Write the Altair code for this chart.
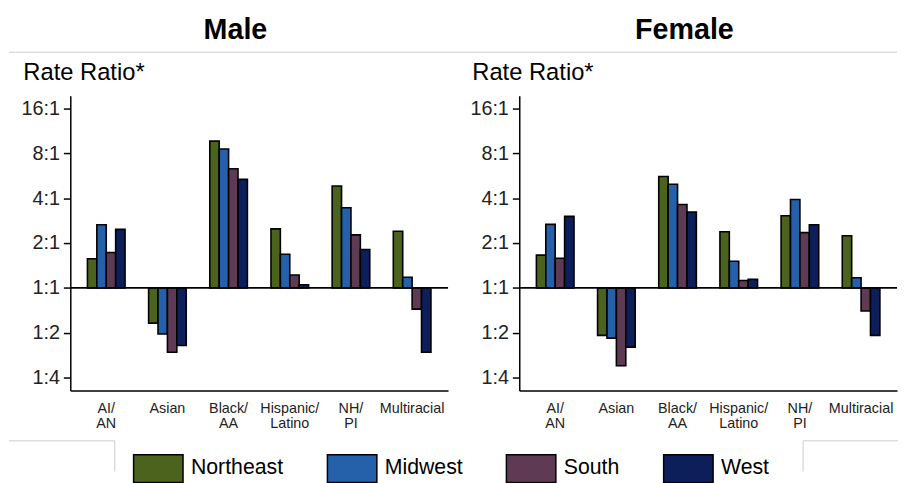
import altair as alt
import pandas as pd

categories = ["AI/AN", "Asian", "Black/AA", "Hispanic/Latino", "NH/PI", "Multiracial"]
regions = ["Northeast", "Midwest", "South", "West"]
colors = ["#4b631c", "#2461aa", "#5f3a55", "#0c1f5a"]

# rate ratios, one list per region, in category order
male = {
    "Northeast": [1.57, 0.58, 9.66, 2.49, 4.83, 2.40],
    "Midwest":   [2.65, 0.49, 8.55, 1.68, 3.45, 1.18],
    "South":     [1.73, 0.37, 6.30, 1.22, 2.27, 0.72],
    "West":      [2.47, 0.41, 5.35, 1.05, 1.81, 0.37],
}
female = {
    "Northeast": [1.66, 0.48, 5.60, 2.38, 3.05, 2.24],
    "Midwest":   [2.67, 0.46, 4.96, 1.51, 3.92, 1.17],
    "South":     [1.58, 0.30, 3.63, 1.12, 2.35, 0.70],
    "West":      [3.02, 0.40, 3.23, 1.14, 2.65, 0.48],
}
y_ticks = [0.25, 0.5, 1, 2, 4, 8, 16]

FONT = "Liberation Sans"
W, H = 382, 298


def frame(d):
    rows = []
    for r in regions:
        for c, v in zip(categories, d[r]):
            rows.append({"category": c, "region": r, "value": v})
    return pd.DataFrame(rows)


one = pd.DataFrame({"a": [0]})


def panel(d, title, extra):
    base = alt.Chart(frame(d))
    bars = base.mark_bar(stroke="black", strokeWidth=1.6).encode(
        x=alt.X("category:N", sort=categories,
                scale=alt.Scale(paddingInner=0.385, paddingOuter=0.28),
                axis=alt.Axis(title=None, labelAngle=0, ticks=False, domainColor="black",
                              domainWidth=1.5, labelFontSize=14.5, labelFont=FONT,
                              labelColor="#222222", labelPadding=11, labelLineHeight=16,
                              labelExpr="split(replace(datum.label, '/', '/|'), '|')")),
        xOffset=alt.XOffset("region:N", sort=regions),
        y=alt.Y("value:Q",
                scale=alt.Scale(type="log", base=2, domain=[0.205, 19.5], nice=False),
                axis=alt.Axis(title="Rate Ratio*", titleAngle=0, titleAlign="left",
                              titleBaseline="alphabetic", titleX=-48, titleY=-16,
                              titleFontSize=24, titleFont=FONT, titleFontWeight="normal",
                              titleColor="black",
                              values=y_ticks, grid=False, domainColor="black",
                              domainWidth=1.5, tickColor="black", tickSize=7,
                              tickWidth=1.5, labelFontSize=20, labelFont=FONT,
                              labelColor="#222222", labelPadding=4,
                              labelExpr="datum.value >= 1 ? datum.value + ':1' : '1:' + round(1/datum.value)")),
        y2=alt.datum(1),
        color=alt.Color("region:N", sort=regions,
                        scale=alt.Scale(domain=regions, range=colors),
                        legend=alt.Legend(title=None, orient="none", direction="horizontal",
                                          legendX=63, legendY=351,
                                          symbolType="M-1,-0.56L1,-0.56L1,0.56L-1,0.56Z",
                                          symbolSize=2500, symbolStrokeColor="black",
                                          symbolStrokeWidth=1.5, symbolOpacity=1,
                                          labelFontSize=21.5, labelFont=FONT, labelColor="black",
                                          labelOffset=7, columnPadding=41, labelLimit=300)),
    )
    baseline = alt.Chart(one).mark_rule(color="black", strokeWidth=2).encode(y=alt.datum(1))
    layers = [bars, baseline] + extra
    return alt.layer(*layers).properties(
        width=W, height=H,
        title=alt.TitleParams(title, font=FONT, fontSize=29, fontWeight="bold",
                              color="black", anchor="middle", frame="group", dx=-24,
                              offset=7),
    )


def hline(x1, x2, y, opacity=1):
    return alt.Chart(one).mark_rule(color="#cccccc", strokeWidth=1, opacity=opacity).encode(
        x=alt.value(x1), x2=alt.value(x2), y=alt.value(y))


def vline(x, y1, y2):
    return alt.Chart(one).mark_rule(color="#cccccc", strokeWidth=1).encode(
        x=alt.value(x), y=alt.value(y1), y2=alt.value(y2))


left_extra = [hline(-62, 836, -44), hline(-62, 45, 349), vline(45, 349, 380)]
right_extra = [hline(0, 383, -44, opacity=0), vline(287, 349, 380), hline(287, 383, 349)]

chart = alt.hconcat(
    panel(male, "Male", left_extra),
    panel(female, "Female", right_extra),
    spacing=72, bounds="flush",
).configure(
    padding={"top": 5, "left": 0, "right": 0, "bottom": 0}
).configure_view(strokeOpacity=0, strokeWidth=0)

chart.save("out.html", embed_options={"renderer": "svg", "actions": False})
